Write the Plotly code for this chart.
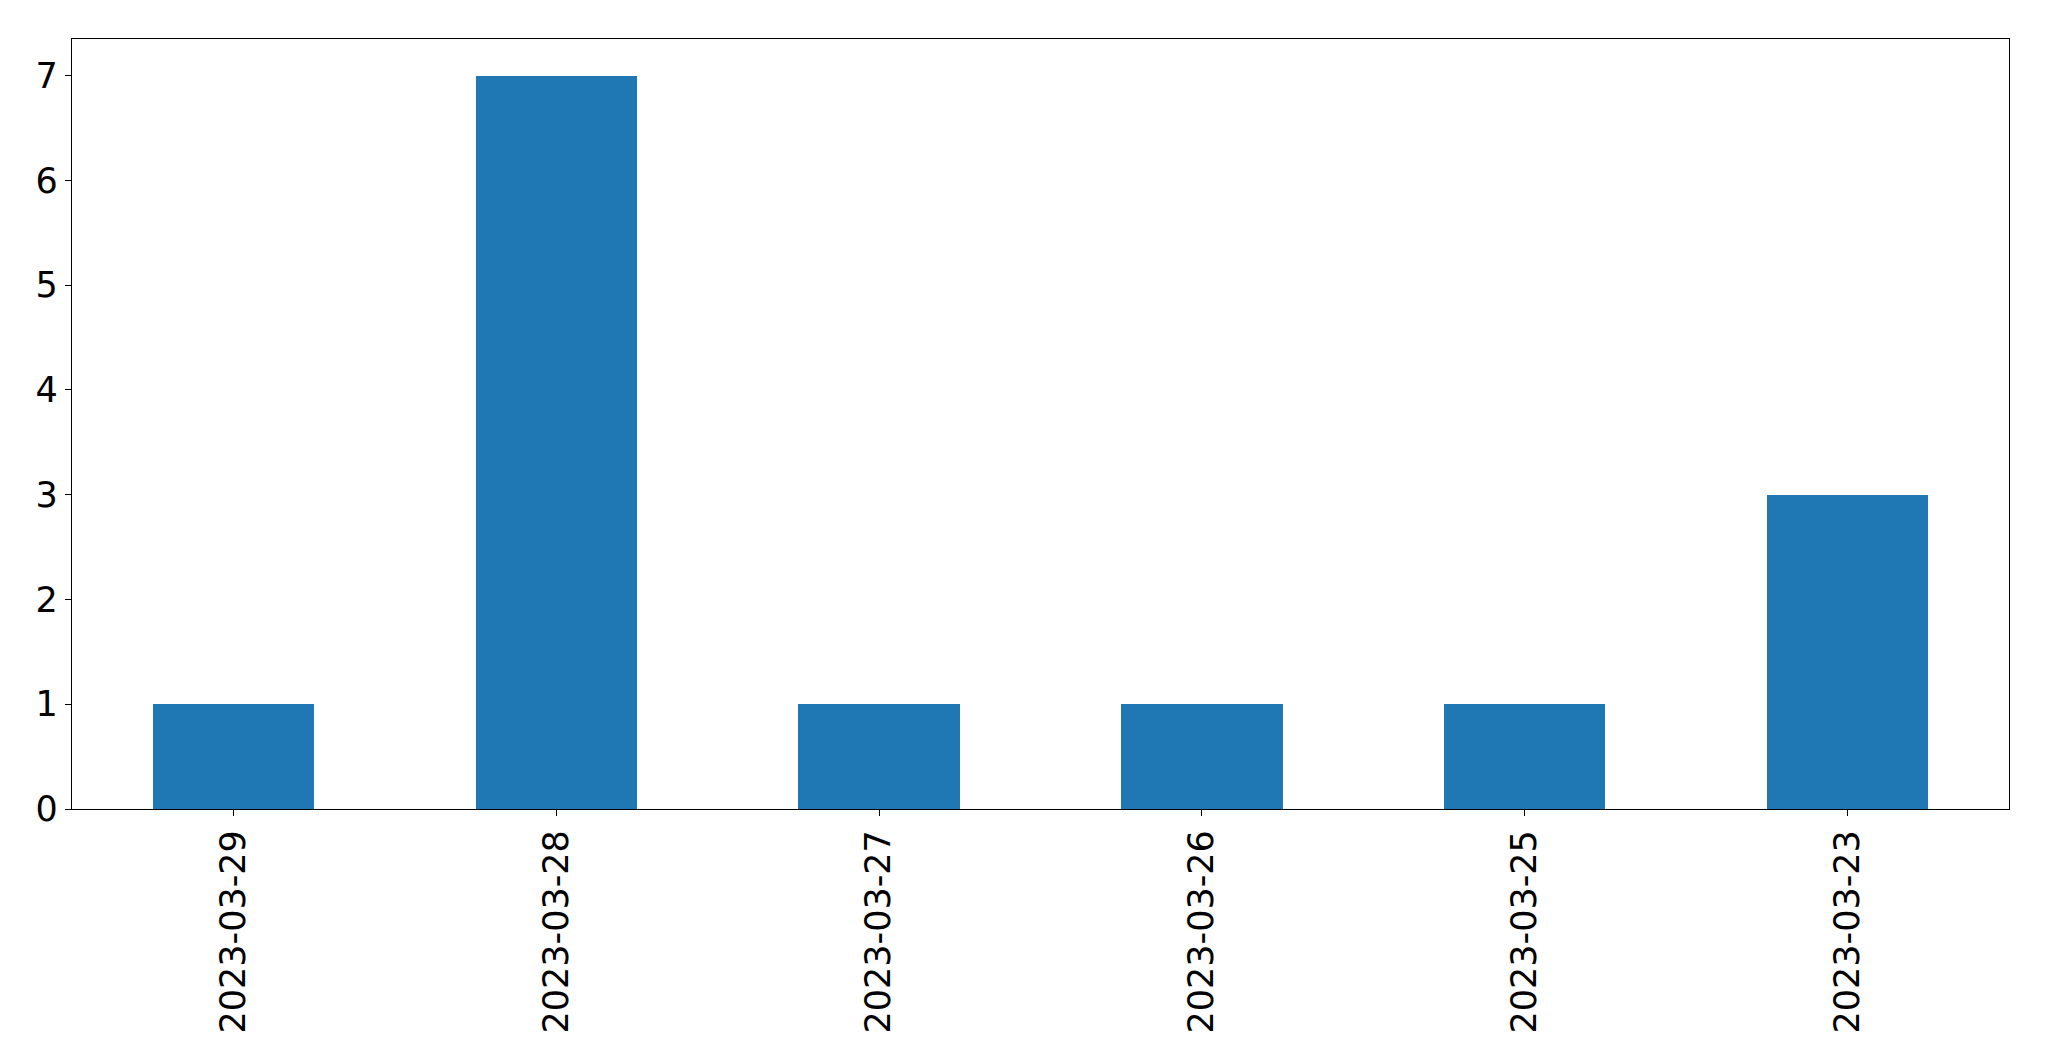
import plotly.graph_objects as go

dates = ["2023-03-29", "2023-03-28", "2023-03-27", "2023-03-26", "2023-03-25", "2023-03-23"]
counts = [1, 7, 1, 1, 1, 3]
y_ticks = [0, 1, 2, 3, 4, 5, 6, 7]

fig = go.Figure(go.Bar(x=dates, y=counts, width=0.5, marker=dict(color="#1f77b4", line=dict(width=0))))

fig.update_layout(
    width=2049, height=1061,
    margin=dict(l=64, r=48, t=31, b=260),
    plot_bgcolor="white", paper_bgcolor="white",
    font=dict(family="DejaVu Sans", size=35, color="black"),
    showlegend=False,
    bargap=0,
)
fig.update_xaxes(
    type="category", range=[-0.5, 5.5],
    showline=True, linecolor="black", linewidth=1.3, mirror=True,
    ticks="outside", ticklen=6, tickcolor="black", tickwidth=1.3,
    tickangle=-90, showgrid=False, zeroline=False,
)
fig.update_yaxes(
    range=[0, 7.35], tickvals=y_ticks,
    showline=True, linecolor="black", linewidth=1.3, mirror=True,
    ticks="outside", ticklen=6, tickcolor="black", tickwidth=1.3,
    showgrid=False, zeroline=False,
)

fig.write_html("out.html")
